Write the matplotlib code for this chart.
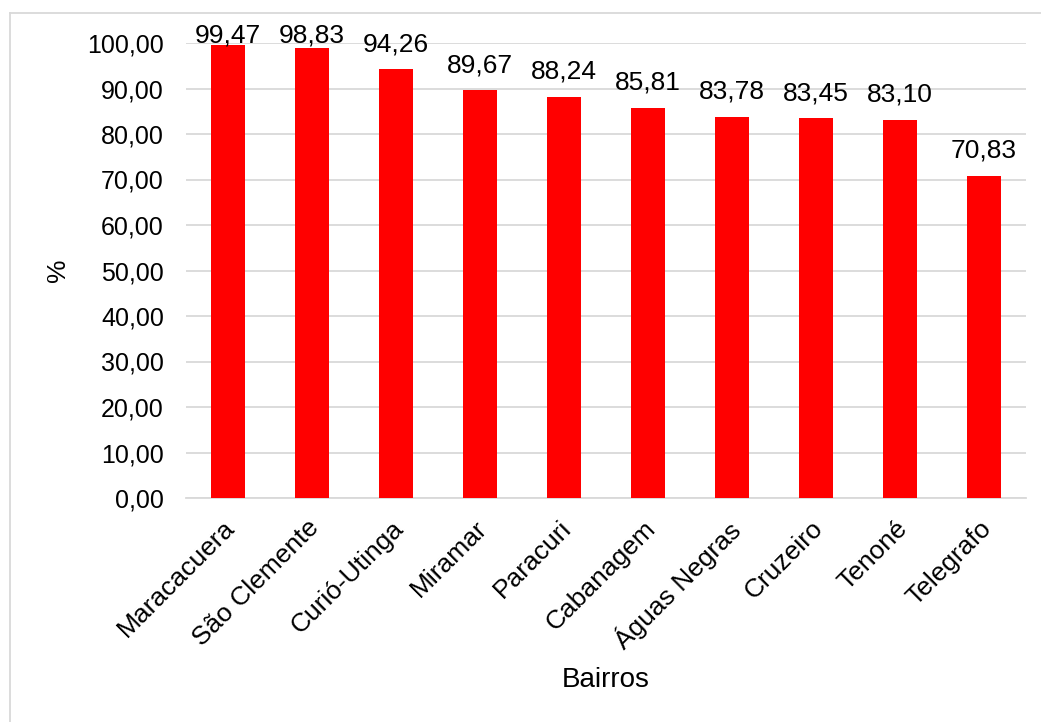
import matplotlib.pyplot as plt
import matplotlib.transforms as mtransforms
from matplotlib.lines import Line2D

plt.rcParams['font.family'] = ['Liberation Sans', 'DejaVu Sans']

bairros = ["Maracacuera", "São Clemente", "Curió-Utinga", "Miramar", "Paracuri",
           "Cabanagem", "Águas Negras", "Cruzeiro", "Tenoné", "Telegrafo"]
valores = [99.47, 98.83, 94.26, 89.67, 88.24, 85.81, 83.78, 83.45, 83.10, 70.83]
yticks = [0, 10, 20, 30, 40, 50, 60, 70, 80, 90, 100]

def br(v, nd=2):
	return f"{v:.{nd}f}".replace(".", ",")

fig = plt.figure(figsize=(10.41, 7.22), dpi=100)
ax = fig.add_axes([186/1041, 1-498/722, 840/1041, 455/722])

x = range(len(bairros))
ax.bar(x, valores, width=0.4, color="#ff0000", zorder=3)
# labels sit ~18 px above the bar, but are kept inside the chart area
for i, v in zip(x, valores):
	ax.text(i, min(v + 3.95, 100.2), br(v), ha="center", va="baseline",
		fontsize=19, color="black", clip_on=False)

ax.set_xlim(-0.5, len(bairros) - 0.5)
ax.set_ylim(0, 100)
ax.set_yticks(yticks)
ax.set_yticklabels([br(t) for t in yticks], fontsize=18)
ax.set_xticks(list(x))
ax.set_xticklabels(bairros, rotation=45, ha="right", rotation_mode="anchor", fontsize=19)
ax.tick_params(axis="both", length=0)
ax.tick_params(axis="y", pad=16)
ax.tick_params(axis="x", pad=10)
shift = mtransforms.ScaledTranslation(-5/100, -4/100, fig.dpi_scale_trans)
for lab in ax.get_xticklabels():
	lab.set_transform(lab.get_transform() + shift)

ax.grid(axis="y", color="#d9d9d9", linewidth=1.3, zorder=0)
for s in ["top", "right", "left"]:
	ax.spines[s].set_visible(False)
ax.spines["bottom"].set_color("#d9d9d9")
ax.spines["bottom"].set_linewidth(1.3)

fig.text(58/1041, 1-270/722, "%", rotation=90, ha="center", va="center", fontsize=19)
fig.text(606/1041, 1-680/722, "Bairros", ha="center", va="center", fontsize=20)

# outer frame (only top and left edges show)
fig.add_artist(Line2D([9.5/1041, 1], [1-13/722, 1-13/722], color="#d9d9d9", linewidth=1.3))
fig.add_artist(Line2D([9.5/1041, 9.5/1041], [0, 1-13/722], color="#d9d9d9", linewidth=1.3))

plt.savefig("out.png", dpi=100)
